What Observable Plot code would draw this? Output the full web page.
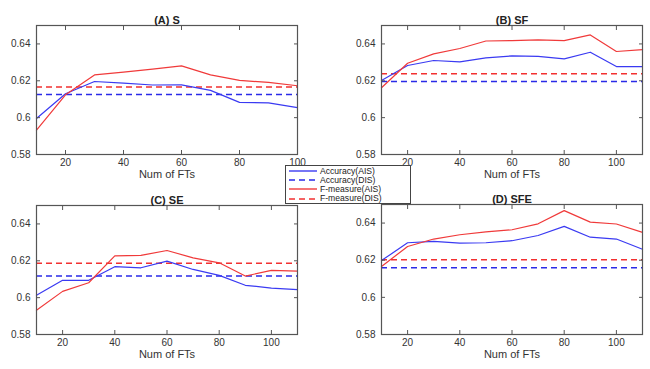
<!DOCTYPE html>
<html>
<head>
<meta charset="utf-8">
<script src="https://cdn.jsdelivr.net/npm/d3@7"></script>
<script src="https://cdn.jsdelivr.net/npm/@observablehq/plot@0.6"></script>
<style>
  html, body { margin: 0; padding: 0; background: #fff; }
  #root { position: relative; width: 650px; height: 369px; font-family: "Liberation Sans", Arial, sans-serif; }
  .panel { position: absolute; }
  #legend { position: absolute; left: 285px; top: 165px; width: 126px; height: 39px; background: #fff; border: 1px solid #444; box-sizing: border-box; font-size: 8.6px; color: #222; padding-top: 0.5px; }
  #legend .row { display: flex; align-items: center; height: 9.2px; line-height: 9.2px; overflow: visible; }
  #legend .row span { line-height: 9.2px; white-space: nowrap; }
  #legend svg { margin-left: 3px; margin-right: 3px; flex: none; }
</style>
</head>
<body>
<div id="root"><div id="legend"></div></div>
<script>
// ---- data ----
const ftsA = [10, 20, 30, 40, 50, 60, 70, 80, 90, 100];
const ftsB = [10, 20, 30, 40, 50, 60, 70, 80, 90, 100, 110];

const accAIS_A = [0.5995, 0.6130, 0.6196, 0.6187, 0.6177, 0.6178, 0.6148, 0.6083, 0.6080, 0.6054];
const fAIS_A   = [0.5932, 0.6124, 0.6232, 0.6247, 0.6263, 0.6281, 0.6232, 0.6202, 0.6191, 0.6173];
const accDIS_A = 0.6126;
const fDIS_A   = 0.6166;

const accAIS_B = [0.6202, 0.6283, 0.6310, 0.6303, 0.6324, 0.6335, 0.6332, 0.6319, 0.6355, 0.6277, 0.6277];
const fAIS_B   = [0.6162, 0.6295, 0.6346, 0.6375, 0.6416, 0.6418, 0.6422, 0.6418, 0.6449, 0.6359, 0.6369];
const accDIS_B = 0.6196;
const fDIS_B   = 0.6238;

const accAIS_C = [0.6013, 0.6094, 0.6094, 0.6168, 0.6162, 0.6198, 0.6153, 0.6121, 0.6067, 0.6052, 0.6043];
const fAIS_C   = [0.5932, 0.6034, 0.6081, 0.6227, 0.6229, 0.6256, 0.6216, 0.6189, 0.6117, 0.6148, 0.6144];
const accDIS_C = 0.6117;
const fDIS_C   = 0.6187;

const accAIS_D = [0.6198, 0.6294, 0.6301, 0.6292, 0.6294, 0.6305, 0.6333, 0.6382, 0.6324, 0.6314, 0.6259];
const fAIS_D   = [0.6166, 0.6274, 0.6314, 0.6337, 0.6353, 0.6364, 0.6396, 0.6467, 0.6405, 0.6395, 0.6350];
const accDIS_D = 0.6159;
const fDIS_D   = 0.6202;

const titles = ["(A) S", "(B) SF", "(C) SE", "(D) SFE"];
const xLabel = "Num of FTs";
const yTicks = [0.58, 0.60, 0.62, 0.64];
const xTicks = [20, 40, 60, 80, 100];
const seriesNames = ["Accuracy(AIS)", "Accuracy(DIS)", "F-measure(AIS)", "F-measure(DIS)"];

// ---- styles ----
const BLUE = "#3a3af2";
const RED = "#f03a3a";
const BLUE_D = "#2a2ae8";
const RED_D = "#f23030";
const DASH = "6,4";

function panel({title, fts, acc, f, accDis, fDis, xmax, left, top, width, height, mL, mR, mT, mB}) {
  const rows = fts.map((x, i) => ({x, acc: acc[i], f: f[i]}));
  const tickColor = "#555";
  const p = Plot.plot({
    width, height,
    marginLeft: mL, marginRight: mR, marginTop: mT, marginBottom: mB,
    style: {fontFamily: "Liberation Sans, Arial, sans-serif", fontSize: "10px", color: "#333", background: "transparent"},
    x: {domain: [10, xmax]},
    y: {domain: [0.58, 0.65]},
    marks: [
      Plot.ruleY([accDis], {stroke: BLUE_D, strokeWidth: 1.5, strokeDasharray: DASH}),
      Plot.ruleY([fDis], {stroke: RED_D, strokeWidth: 1.5, strokeDasharray: DASH}),
      Plot.lineY(rows, {x: "x", y: "acc", stroke: BLUE, strokeWidth: 1.2}),
      Plot.lineY(rows, {x: "x", y: "f", stroke: RED, strokeWidth: 1.2}),
      Plot.axisX(xTicks, {anchor: "bottom", tickSize: -4, tickPadding: 8, stroke: tickColor, fill: "#333", label: null}),
      Plot.axisX(xTicks, {anchor: "top", tickSize: -4, tickFormat: () => "", stroke: tickColor, label: null}),
      Plot.axisY(yTicks, {anchor: "left", tickSize: -4, tickPadding: 10, stroke: tickColor, fill: "#333", label: null, tickFormat: d => String(+d.toFixed(2))}),
      Plot.axisY(yTicks, {anchor: "right", tickSize: -4, tickFormat: () => "", stroke: tickColor, label: null}),
      Plot.frame({stroke: "#555", strokeWidth: 1.2}),
      Plot.text([title], {text: d => d, frameAnchor: "top", lineAnchor: "bottom", dy: -2, fontWeight: "bold", fontSize: 11, fill: "#222"}),
      Plot.text([xLabel], {text: d => d, frameAnchor: "bottom", lineAnchor: "middle", dy: 20, fontSize: 11, fill: "#333"})
    ]
  });
  p.classList.add("panel");
  p.style.left = left + "px";
  p.style.top = top + "px";
  p.style.position = "absolute";
  document.getElementById("root").insertBefore(p, document.getElementById("legend"));
}

panel({title: titles[0], fts: ftsA, acc: accAIS_A, f: fAIS_A, accDis: accDIS_A, fDis: fDIS_A, xmax: 100,
  left: 0, top: 0, width: 330, height: 184, mL: 36, mR: 33, mT: 25, mB: 30});
panel({title: titles[1], fts: ftsB, acc: accAIS_B, f: fAIS_B, accDis: accDIS_B, fDis: fDIS_B, xmax: 110,
  left: 330, top: 0, width: 320, height: 184, mL: 51, mR: 8, mT: 25, mB: 30});
panel({title: titles[2], fts: ftsB, acc: accAIS_C, f: fAIS_C, accDis: accDIS_C, fDis: fDIS_C, xmax: 110,
  left: 0, top: 184, width: 330, height: 185, mL: 36, mR: 33, mT: 21, mB: 35});
panel({title: titles[3], fts: ftsB, acc: accAIS_D, f: fAIS_D, accDis: accDIS_D, fDis: fDIS_D, xmax: 110,
  left: 330, top: 184, width: 320, height: 185, mL: 51, mR: 8, mT: 20, mB: 35});

// ---- legend ----
const legendStyles = [
  {stroke: BLUE, dash: null},
  {stroke: BLUE_D, dash: DASH},
  {stroke: RED, dash: null},
  {stroke: RED_D, dash: DASH}
];
const legend = document.getElementById("legend");
seriesNames.forEach((name, i) => {
  const row = document.createElement("div");
  row.className = "row";
  const s = legendStyles[i];
  row.innerHTML = `<svg width="28" height="8"><line x1="0" x2="28" y1="4" y2="4" stroke="${s.stroke}" stroke-width="1.4" ${s.dash ? `stroke-dasharray="${s.dash}"` : ""}/></svg><span>${name}</span>`;
  legend.appendChild(row);
});
</script>
</body>
</html>
